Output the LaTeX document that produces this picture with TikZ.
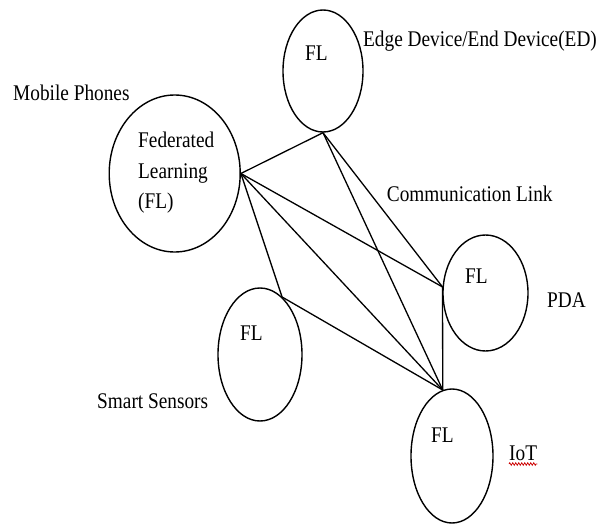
\documentclass[tikz,border=0pt]{standalone}
\usepackage{fontspec}
\setmainfont{Liberation Serif}
\usetikzlibrary{shapes.geometric,decorations.pathmorphing}
\newcommand{\tx}[1]{\scalebox{1}[1.16]{#1}}
\tikzset{
  dev/.style={draw=black, line width=1.4pt, ellipse, inner sep=0pt},
  lbl/.style={inner sep=0pt, anchor=base west, font=\fontsize{19.3}{23}\selectfont},
  link/.style={draw=black, line width=1.3pt},
}
\begin{document}
\begin{tikzpicture}[x=1pt,y=-1pt]
\useasboundingbox (0,0) rectangle (598,525);
% devices
\node[dev, minimum width=80pt, minimum height=122pt] (ed) at (323,71) {};
\node[dev, minimum width=131pt, minimum height=157pt] (fl) at (174.7,173.5) {};
\node[dev, minimum width=85pt, minimum height=116pt] (pda) at (485.5,293) {};
\node[dev, minimum width=84pt, minimum height=133pt] (ss) at (260,354.5) {};
\node[dev, minimum width=82pt, minimum height=134pt] (iot) at (452,456) {};
% texts inside
\node[lbl] (edfl) at (305,60) {\tx{FL}};
\node[lbl] (fl1) at (138,147.7) {\tx{Federated}};
\node[lbl] (fl2) at (138,178.2) {\tx{Learning}};
\node[lbl] (fl3) at (138,208.5) {\tx{(FL)}};
\node[lbl] (pdafl) at (465,283) {\tx{FL}};
\node[lbl] (ssfl) at (240,340) {\tx{FL}};
\node[lbl] (iotfl) at (431,442) {\tx{FL}};
% outside labels
\node[lbl] (mp) at (13,100) {\tx{Mobile Phones}};
\node[lbl] (edl) at (363,46.5) {\tx{Edge Device/End Device(ED)}};
\node[lbl] (cl) at (386.7,201.7) {\tx{Communication Link}};
\node[lbl] (pdal) at (547,307) {\tx{PDA}};
\node[lbl] (ssl) at (97,408) {\tx{Smart Sensors}};
\node[lbl] (iotl) at (509,460.5) {\tx{IoT}};
\draw[red!80!black, line width=0.7pt, decorate, decoration={zigzag, amplitude=1.3pt, segment length=3pt}]
  ([yshift=-3.5pt]iotl.base west) -- ([yshift=-3.5pt]iotl.base east);
% links
\draw[link] (fl.east) -- (ed.south);
\draw[link] (fl.east) -- (pda.172);
\draw[link] (fl.east) -- (iot.98);
\draw[link] (fl.east) -- (ss.69);
\draw[link] (ed.south) -- (pda.172);
\draw[link] (ed.south) -- (iot.98);
\draw[link] (ss.69) -- (iot.98);
\draw[link] (pda.172) -- (iot.98);
\end{tikzpicture}
\end{document}
